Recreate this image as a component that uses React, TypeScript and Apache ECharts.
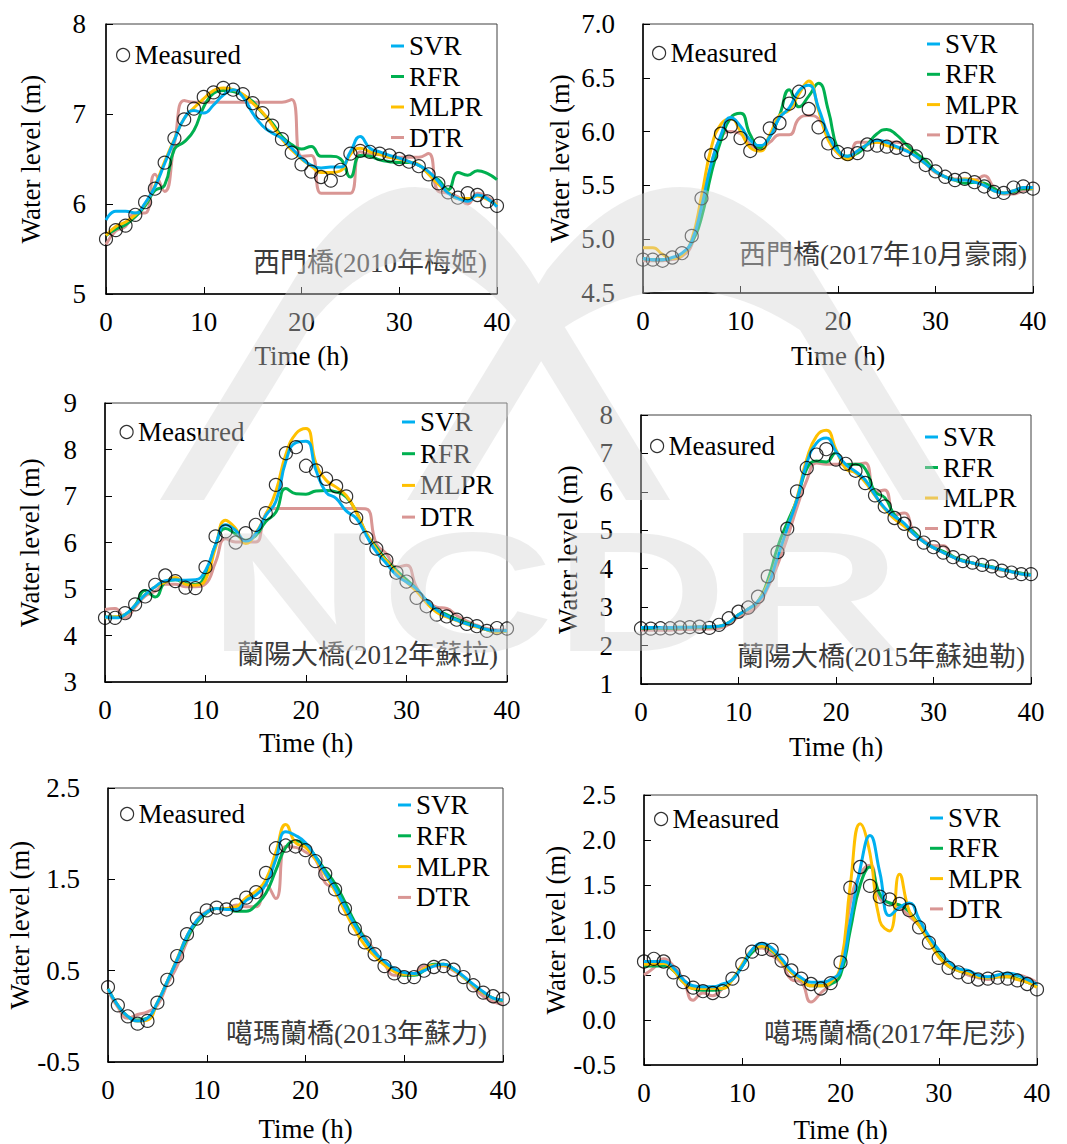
import React, { useEffect, useRef } from "react";
import * as echarts from "echarts";

// ---------------- data ----------------
const HOURS = [0,1,2,3,4,5,6,7,8,9,10,11,12,13,14,15,16,17,18,19,20,21,22,23,24,25,26,27,28,29,30,31,32,33,34,35,36,37,38,39,40];

// 西門橋(2010年梅姬)
const p1Measured = [5.61,5.71,5.76,5.88,6.02,6.17,6.46,6.73,6.94,7.06,7.19,7.24,7.29,7.27,7.22,7.12,7.01,6.87,6.72,6.57,6.44,6.36,6.30,6.26,6.38,6.56,6.59,6.58,6.56,6.54,6.50,6.47,6.42,6.33,6.23,6.13,6.07,6.12,6.10,6.03,5.98];
const p1SVR = [5.82,5.92,5.92,5.90,6.01,6.19,6.45,6.71,6.95,7.04,7.01,7.10,7.21,7.27,7.19,7.01,6.87,6.79,6.73,6.62,6.51,6.43,6.40,6.41,6.41,6.58,6.75,6.62,6.58,6.54,6.51,6.47,6.43,6.36,6.25,6.12,6.06,6.03,6.10,6.06,5.97];
const p1RFR = [5.65,5.72,5.77,5.86,5.98,6.15,6.21,6.61,6.69,6.82,7.08,7.23,7.26,7.25,7.21,7.14,7.01,6.90,6.75,6.66,6.61,6.64,6.53,6.53,6.50,6.30,6.54,6.53,6.49,6.47,6.46,6.46,6.43,6.34,6.27,6.16,6.35,6.32,6.37,6.34,6.27];
const p1MLPR = [5.65,5.75,5.80,5.88,6.00,6.20,6.47,6.72,6.95,7.07,7.17,7.26,7.29,7.27,7.22,7.12,7.02,6.88,6.72,6.60,6.50,6.42,6.35,6.35,6.37,6.55,6.62,6.58,6.55,6.52,6.50,6.47,6.44,6.33,6.22,6.13,6.06,6.06,6.09,6.05,5.99];
const p1DTR = [5.55,5.70,5.75,5.90,5.90,6.33,6.14,6.67,7.15,7.13,7.13,7.13,7.13,7.13,7.13,7.13,7.13,7.13,7.13,7.16,6.53,6.54,6.12,6.12,6.12,6.12,6.58,6.55,6.55,6.52,6.52,6.52,6.52,6.56,6.14,6.12,6.08,6.00,6.12,6.08,5.99];

// 西門橋(2017年10月豪雨)
const p2Measured = [4.81,4.81,4.80,4.83,4.87,5.03,5.38,5.78,5.98,6.05,5.94,5.82,5.89,6.03,6.08,6.26,6.37,6.21,6.04,5.89,5.81,5.79,5.80,5.88,5.87,5.86,5.85,5.83,5.77,5.69,5.63,5.58,5.55,5.56,5.53,5.49,5.44,5.43,5.48,5.49,5.47];
const p2SVR = [4.82,4.81,4.81,4.83,4.87,4.98,5.30,5.70,5.97,6.13,6.05,5.92,5.87,5.95,6.13,6.22,6.38,6.43,6.22,5.97,5.82,5.77,5.82,5.88,5.92,5.90,5.86,5.82,5.77,5.70,5.63,5.58,5.55,5.55,5.53,5.50,5.45,5.43,5.45,5.48,5.48];
const p2RFR = [4.82,4.81,4.81,4.82,4.86,4.97,5.20,5.61,5.92,6.13,6.17,5.97,5.85,5.95,6.15,6.39,6.23,6.33,6.45,6.20,5.83,5.77,5.80,5.88,5.98,6.02,5.97,5.88,5.80,5.73,5.63,5.58,5.55,5.52,5.53,5.52,5.47,5.43,5.44,5.47,5.47];
const p2MLPR = [4.92,4.92,4.86,4.82,4.85,5.00,5.40,5.85,6.07,6.12,6.00,5.85,5.82,5.97,6.15,6.20,6.35,6.47,6.20,5.92,5.80,5.74,5.82,5.88,5.90,5.87,5.85,5.83,5.77,5.70,5.63,5.58,5.55,5.56,5.55,5.50,5.45,5.43,5.45,5.48,5.47];
const p2DTR = [4.80,4.80,4.80,4.81,4.84,4.95,5.30,5.70,5.95,6.00,5.98,5.88,5.85,5.90,5.97,5.97,6.12,6.15,6.12,5.95,5.80,5.76,5.90,5.90,5.90,5.90,5.90,5.88,5.77,5.70,5.62,5.58,5.56,5.56,5.55,5.59,5.48,5.42,5.42,5.45,5.47];

// 蘭陽大橋(2012年蘇拉)
const p3Measured = [4.38,4.38,4.48,4.67,4.84,5.09,5.29,5.17,5.03,5.02,5.47,6.13,6.24,6.00,6.20,6.38,6.63,7.24,7.92,8.05,7.65,7.55,7.37,7.21,6.99,6.53,6.10,5.87,5.62,5.35,5.16,4.81,4.63,4.45,4.41,4.34,4.25,4.20,4.10,4.16,4.15];
const p3SVR = [4.40,4.38,4.45,4.65,4.88,5.05,5.18,5.20,5.19,5.20,5.40,5.95,6.38,6.26,6.03,6.19,6.58,6.88,7.75,8.15,8.18,7.55,7.08,6.95,6.68,6.52,6.15,5.80,5.55,5.30,5.15,5.00,4.75,4.55,4.42,4.33,4.25,4.20,4.13,4.10,4.10];
const p3RFR = [4.40,4.40,4.45,4.65,4.97,4.83,5.15,5.20,5.12,5.10,5.30,5.95,6.30,6.18,6.05,6.15,6.45,6.65,7.16,7.05,7.04,7.11,7.12,7.09,6.98,6.66,6.19,5.90,5.62,5.40,5.20,5.00,4.75,4.55,4.45,4.35,4.27,4.20,4.12,4.08,4.10];
const p3MLPR = [4.38,4.40,4.45,4.65,4.88,5.05,5.15,5.25,5.10,5.08,5.20,5.90,6.48,6.30,5.98,6.20,6.60,7.10,7.90,8.34,8.45,7.70,7.34,7.19,7.01,6.66,6.20,5.85,5.60,5.35,5.15,4.95,4.70,4.50,4.40,4.32,4.24,4.18,4.12,4.07,4.10];
const p3DTR = [4.56,4.58,4.38,4.61,4.85,4.95,5.10,5.10,5.05,5.05,5.11,5.58,6.08,6.01,6.01,6.01,6.62,6.73,6.73,6.73,6.73,6.73,6.73,6.73,6.73,6.73,6.72,5.97,5.76,5.47,5.51,5.04,4.76,4.61,4.58,4.43,4.31,4.22,4.15,4.12,4.12];

// 蘭陽大橋(2015年蘇迪勒)
const p4Measured = [2.45,2.44,2.45,2.45,2.47,2.48,2.49,2.46,2.54,2.71,2.88,2.99,3.27,3.80,4.43,5.04,6.01,6.62,6.97,7.11,6.84,6.73,6.55,6.23,5.91,5.62,5.32,5.17,4.91,4.68,4.56,4.42,4.30,4.20,4.16,4.10,4.06,3.95,3.90,3.86,3.86];
const p4SVR = [2.47,2.47,2.47,2.47,2.48,2.48,2.49,2.49,2.50,2.60,2.80,2.95,3.15,3.55,4.30,5.05,5.80,6.75,7.27,7.40,7.05,6.71,6.53,6.31,5.92,5.58,5.36,5.18,4.90,4.70,4.55,4.42,4.30,4.20,4.15,4.08,4.03,3.98,3.92,3.86,3.83];
const p4RFR = [2.45,2.45,2.45,2.45,2.46,2.47,2.48,2.48,2.50,2.60,2.80,2.95,3.15,3.70,4.55,5.20,5.80,6.60,6.80,6.78,7.02,6.70,6.72,6.60,6.00,5.85,5.40,5.15,4.95,4.70,4.55,4.45,4.32,4.22,4.15,4.10,4.05,3.98,3.93,3.88,3.85];
const p4MLPR = [2.47,2.47,2.47,2.47,2.48,2.48,2.49,2.49,2.50,2.60,2.80,2.95,3.15,3.60,4.30,5.05,5.85,6.85,7.45,7.60,7.10,6.60,6.50,6.25,5.90,5.55,5.30,5.10,4.90,4.70,4.55,4.42,4.30,4.20,4.15,4.08,4.03,3.98,3.92,3.86,3.83];
const p4DTR = [2.40,2.40,2.40,2.40,2.42,2.42,2.43,2.43,2.45,2.55,2.75,2.85,3.05,3.50,4.10,4.80,5.60,6.30,6.75,6.72,6.72,6.72,6.72,6.75,6.00,6.05,5.40,5.45,4.95,4.75,4.60,4.60,4.30,4.20,4.15,4.08,4.02,3.96,3.92,3.88,3.82];

// 噶瑪蘭橋(2013年蘇力)
const p5Measured = [0.32,0.12,0.00,-0.08,-0.05,0.15,0.40,0.66,0.90,1.07,1.16,1.19,1.17,1.22,1.30,1.36,1.57,1.84,1.87,1.86,1.82,1.70,1.56,1.39,1.18,0.96,0.81,0.68,0.55,0.47,0.43,0.43,0.50,0.54,0.55,0.51,0.43,0.34,0.26,0.22,0.19];
const p5SVR = [0.30,0.12,0.00,-0.05,-0.02,0.15,0.38,0.62,0.88,1.05,1.14,1.18,1.17,1.17,1.27,1.33,1.45,1.72,2.02,1.98,1.90,1.75,1.57,1.40,1.20,1.00,0.84,0.70,0.60,0.52,0.48,0.47,0.50,0.55,0.57,0.52,0.44,0.35,0.27,0.20,0.18];
const p5RFR = [0.30,0.12,0.00,-0.04,-0.02,0.15,0.38,0.62,0.85,1.03,1.13,1.18,1.18,1.15,1.15,1.22,1.35,1.60,1.85,1.92,1.88,1.75,1.60,1.45,1.25,1.03,0.85,0.70,0.58,0.50,0.45,0.45,0.50,0.57,0.57,0.52,0.43,0.34,0.26,0.20,0.17];
const p5MLPR = [0.30,0.12,0.00,-0.05,-0.04,0.15,0.38,0.63,0.88,1.05,1.14,1.18,1.18,1.20,1.30,1.37,1.50,1.80,2.10,1.90,1.85,1.72,1.55,1.37,1.15,0.95,0.78,0.66,0.56,0.49,0.46,0.46,0.52,0.56,0.56,0.51,0.43,0.34,0.26,0.20,0.18];
const p5DTR = [0.28,0.10,-0.02,0.02,0.05,0.12,0.35,0.55,0.82,1.05,1.15,1.18,1.18,1.22,1.20,1.20,1.44,1.29,1.86,1.85,1.80,1.72,1.46,1.40,1.20,1.02,0.87,0.72,0.57,0.45,0.45,0.47,0.55,0.55,0.55,0.50,0.43,0.32,0.22,0.16,0.14];

// 噶瑪蘭橋(2017年尼莎)
const p6Measured = [0.65,0.68,0.65,0.53,0.42,0.36,0.32,0.30,0.32,0.46,0.62,0.76,0.79,0.78,0.66,0.55,0.46,0.40,0.35,0.41,0.64,1.47,1.70,1.49,1.37,1.34,1.29,1.22,1.03,0.86,0.69,0.58,0.53,0.48,0.45,0.46,0.47,0.46,0.44,0.40,0.34];
const p6SVR = [0.65,0.65,0.65,0.58,0.45,0.38,0.37,0.37,0.40,0.45,0.60,0.78,0.85,0.80,0.68,0.55,0.47,0.42,0.42,0.45,0.55,1.10,1.68,2.05,1.64,1.16,1.25,1.30,1.12,0.93,0.78,0.65,0.57,0.55,0.50,0.48,0.50,0.52,0.50,0.45,0.40];
const p6RFR = [0.60,0.60,0.60,0.55,0.42,0.35,0.33,0.33,0.35,0.45,0.60,0.75,0.82,0.77,0.65,0.53,0.45,0.38,0.38,0.40,0.50,1.00,1.50,1.70,1.40,1.30,1.28,1.20,1.05,0.88,0.72,0.60,0.55,0.52,0.48,0.47,0.48,0.48,0.46,0.42,0.37];
const p6MLPR = [0.62,0.62,0.63,0.55,0.42,0.35,0.35,0.35,0.35,0.45,0.62,0.78,0.82,0.78,0.65,0.53,0.45,0.38,0.38,0.42,0.60,1.50,2.18,1.85,1.10,0.99,1.62,1.21,1.05,0.88,0.70,0.60,0.55,0.52,0.48,0.47,0.48,0.48,0.45,0.42,0.36];
const p6DTR = [0.50,0.58,0.68,0.60,0.45,0.22,0.30,0.27,0.35,0.45,0.60,0.75,0.80,0.72,0.63,0.45,0.42,0.20,0.30,0.40,0.55,1.30,1.62,1.72,1.35,1.30,1.25,1.15,1.05,0.90,0.72,0.60,0.55,0.50,0.47,0.45,0.48,0.50,0.50,0.47,0.42];

const STATION_LABELS = [
  "西門橋(2010年梅姬)",
  "西門橋(2017年10月豪雨)",
  "蘭陽大橋(2012年蘇拉)",
  "蘭陽大橋(2015年蘇迪勒)",
  "噶瑪蘭橋(2013年蘇力)",
  "噶瑪蘭橋(2017年尼莎)",
];
const MODEL_NAMES = ["SVR", "RFR", "MLPR", "DTR"];
const MEASURED_NAME = "Measured";
const X_NAME = "Time (h)";
const Y_NAME = "Water level (m)";

const PANEL_DATA = [
  { measured: p1Measured, SVR: p1SVR, RFR: p1RFR, MLPR: p1MLPR, DTR: p1DTR },
  { measured: p2Measured, SVR: p2SVR, RFR: p2RFR, MLPR: p2MLPR, DTR: p2DTR },
  { measured: p3Measured, SVR: p3SVR, RFR: p3RFR, MLPR: p3MLPR, DTR: p3DTR },
  { measured: p4Measured, SVR: p4SVR, RFR: p4RFR, MLPR: p4MLPR, DTR: p4DTR },
  { measured: p5Measured, SVR: p5SVR, RFR: p5RFR, MLPR: p5MLPR, DTR: p5DTR },
  { measured: p6Measured, SVR: p6SVR, RFR: p6RFR, MLPR: p6MLPR, DTR: p6DTR },
];

// ---------------- layout / style ----------------
const COLORS: Record<string, string> = { SVR: "#00B0F0", RFR: "#00B050", MLPR: "#FFC000", DTR: "#D99694" };
const DRAW_ORDER = ["DTR", "RFR", "MLPR", "SVR"];
const SERIF = "Liberation Serif";
const NOTE_FONT = "27px Liberation Serif, Noto Sans CJK TC, serif";

const LAYOUT = [
  { left: 106, top: 24, width: 391, height: 270, yMin: 5, yMax: 8, yStep: 1, dec: 0, lblMargin: 20, xGap: 48, yGap: 62, noteRight: 487, noteY: 263, mL: 116, mT: 40, lL: 391, lT: 31, gap: 0.5 },
  { left: 643, top: 24, width: 390, height: 269, yMin: 4.5, yMax: 7, yStep: 0.5, dec: 1, lblMargin: 28, xGap: 49, yGap: 70, noteRight: 1027, noteY: 255, mL: 652, mT: 38, lL: 927, lT: 29, gap: 0.3 },
  { left: 105, top: 403, width: 402, height: 279, yMin: 3, yMax: 9, yStep: 1, dec: 0, lblMargin: 28, xGap: 47, yGap: 62, noteRight: 498, noteY: 655, mL: 119.5, mT: 417, lL: 402, lT: 407, gap: 1.7 },
  { left: 641, top: 415, width: 390, height: 269, yMin: 1, yMax: 8, yStep: 1, dec: 0, lblMargin: 28, xGap: 49, yGap: 60, noteRight: 1025, noteY: 657, mL: 650, mT: 431, lL: 925, lT: 422, gap: 0.5 },
  { left: 108, top: 788, width: 395, height: 274, yMin: -0.5, yMax: 2.5, yStep: 1, dec: 1, lblMargin: 28, xGap: 53, yGap: 72, noteRight: 487, noteY: 1034, mL: 120, mT: 799, lL: 398, lT: 790, gap: 0.8 },
  { left: 644, top: 795, width: 393, height: 271, yMin: -0.5, yMax: 2.5, yStep: 0.5, dec: 1, lblMargin: 28, xGap: 51, yGap: 71, noteRight: 1025, noteY: 1034, mL: 654, mT: 804, lL: 930, lT: 803, gap: 0.3 },
];

// watermark (NCDR logo) outline, page pixel coordinates: two rounded peaks
const WATERMARK_PATH =
  "M160 500 L300 270 Q415 104 530 270 L670 500 L626 500 L516 320 Q415 200 314 320 L204 500 Z " +
  "M407 500 L547 270 Q680 104 813 270 L953 500 L903 500 L800 330 Q680 250 560 330 L457 500 Z";
echarts.graphic.registerShape("ncdrMountain", echarts.graphic.extendPath(WATERMARK_PATH, {}));
const WM_FILL = "rgba(212,212,212,0.42)";

function buildOption() {
  const grid: any[] = [];
  const xAxis: any[] = [];
  const yAxis: any[] = [];
  const series: any[] = [];
  const legend: any[] = [];
  const graphic: any[] = [];

  LAYOUT.forEach((l, i) => {
    grid.push({ left: l.left, top: l.top, width: l.width, height: l.height, show: true, borderColor: "#404040", borderWidth: 1 });
    xAxis.push({
      type: "value", gridIndex: i, min: 0, max: 40, interval: 10,
      name: X_NAME, nameLocation: "middle", nameGap: l.xGap,
      nameTextStyle: { fontSize: 27, fontFamily: SERIF, color: "#000" },
      axisLine: { show: true, onZero: false, lineStyle: { color: "#000", width: 1.5 } },
      axisTick: { show: true, inside: true, length: 7, lineStyle: { color: "#000", width: 1 } },
      axisLabel: { fontSize: 27, fontFamily: SERIF, color: "#000", margin: 14 },
      splitLine: { show: false },
    });
    yAxis.push({
      type: "value", gridIndex: i, min: l.yMin, max: l.yMax, interval: l.yStep,
      name: Y_NAME, nameLocation: "middle", nameGap: l.yGap,
      nameTextStyle: { fontSize: 27, fontFamily: SERIF, color: "#000" },
      axisLine: { show: true, onZero: false, lineStyle: { color: "#000", width: 1.5 } },
      axisTick: { show: true, inside: true, length: 7, lineStyle: { color: "#000", width: 1 } },
      axisLabel: {
        fontSize: 27, fontFamily: SERIF, color: "#000", margin: l.lblMargin,
        formatter: (v: number) => v.toFixed(l.dec),
      },
      splitLine: { show: false },
    });

    const d: any = PANEL_DATA[i];
    DRAW_ORDER.forEach((m) => {
      series.push({
        type: "line", name: m, xAxisIndex: i, yAxisIndex: i,
        data: HOURS.map((h, k) => [h, d[m][k]]),
        smooth: 0.5, symbol: "none", showSymbol: false,
        color: COLORS[m],
        lineStyle: { color: COLORS[m], width: 3 },
        z: 2,
      });
    });
    series.push({
      type: "scatter", name: MEASURED_NAME, xAxisIndex: i, yAxisIndex: i,
      data: HOURS.map((h, k) => [h, d.measured[k]]),
      symbol: "circle", symbolSize: 13,
      itemStyle: { color: "rgba(0,0,0,0)", borderColor: "#000", borderWidth: 1.2 },
      z: 3,
    });

    legend.push({
      data: [MEASURED_NAME], left: l.mL, top: l.mT, orient: "vertical", selectedMode: false,
      icon: "circle", itemWidth: 13, itemHeight: 13, padding: 0,
      itemStyle: { color: "rgba(0,0,0,0)", borderColor: "#000", borderWidth: 1.2 },
      textStyle: { fontSize: 27, fontFamily: SERIF, color: "#000", lineHeight: 30 },
    });
    legend.push({
      data: MODEL_NAMES, left: l.lL, top: l.lT, orient: "vertical", selectedMode: false,
      icon: "rect", itemWidth: 13, itemHeight: 3, itemGap: l.gap, padding: 0,
      itemStyle: { borderWidth: 0 },
      textStyle: { fontSize: 27, fontFamily: SERIF, color: "#000", lineHeight: 30 },
    });

    graphic.push({
      type: "text", x: l.noteRight, y: l.noteY, z: 50,
      style: { text: STATION_LABELS[i], font: NOTE_FONT, fill: "#3a3a3a", textAlign: "right", textVerticalAlign: "middle" },
    });
  });

  // watermark overlay
  graphic.push({ type: "ncdrMountain", x: 0, y: 0, z: 100, silent: true, style: { fill: WM_FILL } });
  graphic.push({
    type: "text", x: 208, y: 592, scaleX: 1.41, z: 100, silent: true,
    style: { text: "NCDR", font: "bold 170px Liberation Sans, Arial, sans-serif", fill: WM_FILL, textAlign: "left", textVerticalAlign: "middle" },
  });

  return { animation: false, backgroundColor: "#fff", textStyle: { fontFamily: SERIF }, grid, xAxis, yAxis, series, legend, graphic };
}

export default function App() {
  const ref = useRef<HTMLDivElement>(null);
  useEffect(() => {
    document.body.style.margin = "0";
    if (!ref.current) return;
    const chart = echarts.init(ref.current, undefined, { renderer: "svg" });
    chart.setOption(buildOption());
    return () => chart.dispose();
  }, []);
  return <div ref={ref} style={{ position: "absolute", left: 0, top: 0, width: 1067, height: 1144 }} />;
}
